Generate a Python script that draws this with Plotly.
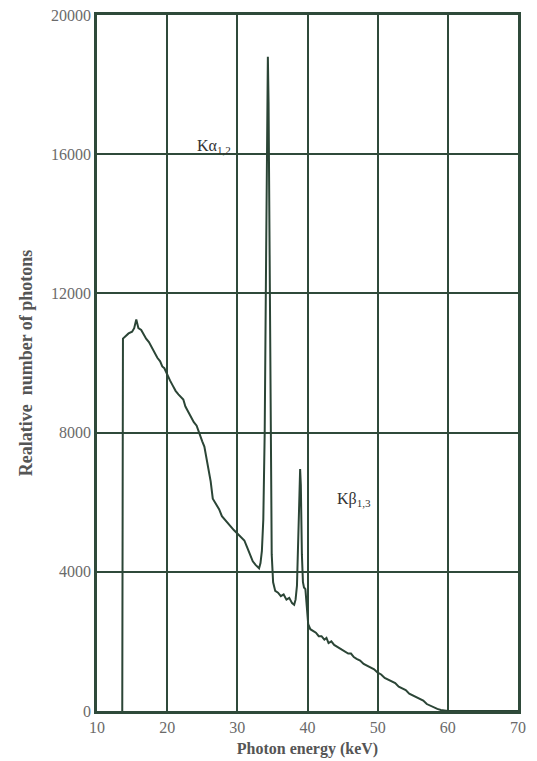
import plotly.graph_objects as go

energy = [13.5, 13.6, 13.7, 14.0, 14.5, 15.0, 15.3, 15.6, 15.9, 16.3, 16.7, 17.0, 17.4, 17.8,
          18.2, 18.6, 19.0, 19.3, 19.6, 20.0, 20.4, 20.8, 21.2, 21.6, 22.0, 22.3, 22.6, 23.0,
          23.4, 23.8, 24.2, 24.6, 25.0, 25.3, 25.6, 25.9, 26.2, 26.5, 26.8, 27.1, 27.4, 27.8,
          28.2, 28.6, 29.0, 29.5, 30.0, 30.5, 31.0, 31.4, 31.8, 32.2, 32.6, 32.9, 33.1, 33.3,
          33.5, 33.7, 33.9, 34.1, 34.25, 34.35, 34.45, 34.6, 34.75, 34.9, 35.1, 35.4, 35.8,
          36.2, 36.6, 37.0, 37.4, 37.8, 38.1, 38.3, 38.5, 38.7, 38.85, 38.95, 39.05, 39.2,
          39.35, 39.5, 39.7, 39.9, 40.1, 40.4, 40.8, 41.2, 41.6, 42.0, 42.4, 42.7, 43.0, 43.4,
          43.8, 44.2, 44.6, 45.0, 45.4, 45.8, 46.2, 46.6, 47.0, 47.5, 48.0, 48.5, 49.0, 49.5,
          50.0, 50.5, 51.0, 51.5, 52.0, 52.5, 53.0, 53.5, 54.0, 54.5, 55.0, 55.5, 56.0, 56.5,
          57.0, 57.5, 58.0, 58.5, 59.0, 59.5, 60.0, 65.0, 70.0]
photons = [0, 0, 10700, 10750, 10850, 10900, 11000, 11250, 11000, 10950, 10800, 10700, 10600, 10450,
           10300, 10150, 10050, 9900, 9850, 9650, 9500, 9350, 9200, 9100, 9000, 8950, 8750, 8600,
           8450, 8300, 8200, 7950, 7750, 7600, 7300, 6950, 6600, 6100, 6000, 5900, 5800, 5600,
           5500, 5400, 5300, 5200, 5100, 5000, 4900, 4700, 4500, 4300, 4200, 4150, 4100, 4250,
           4600, 5500, 8000, 13000, 17000, 18800, 17500, 12000, 7000, 4500, 3700, 3450, 3400,
           3300, 3350, 3200, 3250, 3100, 3050, 3200, 3600, 4800, 6200, 6950, 6500, 4500,
           3700, 3550, 3500, 3000, 2500, 2350, 2300, 2250, 2150, 2150, 2050, 2100, 1950, 2000,
           1900, 1850, 1800, 1750, 1700, 1650, 1650, 1550, 1500, 1450, 1350, 1300, 1250, 1200,
           1100, 1050, 950, 900, 850, 800, 700, 650, 600, 500, 450, 400, 350, 300,
           200, 150, 100, 60, 30, 10, 0, 0, 0]

x_ticks = [10, 20, 30, 40, 50, 60, 70]
y_ticks = [0, 4000, 8000, 12000, 16000, 20000]

line_col = "#2b4536"
grid_col = "#2f4a3a"
tick_font = dict(family="Liberation Serif", size=16, color="#6a6a6a")

fig = go.Figure()
fig.add_trace(go.Scatter(x=energy, y=photons, mode="lines",
                         line=dict(color=line_col, width=2), showlegend=False))

fig.add_annotation(x=26.7, y=15900, text="Kα<sub>1,2</sub>", showarrow=False,
                   xanchor="center", yanchor="bottom",
                   font=dict(family="Liberation Serif", size=16, color="#333333"))
fig.add_annotation(x=46.6, y=5750, text="Kβ<sub>1,3</sub>", showarrow=False,
                   xanchor="center", yanchor="bottom",
                   font=dict(family="Liberation Serif", size=16, color="#333333"))

fig.update_xaxes(range=[10, 70], tickvals=x_ticks, ticktext=[str(v) for v in x_ticks],
                 showgrid=True, gridcolor=grid_col, gridwidth=1.5,
                 showline=True, linecolor=grid_col, linewidth=2.5, mirror=True,
                 zeroline=False, ticks="", tickfont=tick_font, automargin=False,
                 title=dict(text="<b>Photon energy (keV)</b>",
                            font=dict(family="Liberation Serif", size=16, color="#555555"),
                            standoff=8))
fig.update_yaxes(range=[0, 20000], tickvals=y_ticks, ticktext=[str(v) for v in y_ticks],
                 showgrid=True, gridcolor=grid_col, gridwidth=1.5,
                 showline=True, linecolor=grid_col, linewidth=2.5, mirror=True,
                 zeroline=False, ticks="", tickfont=tick_font, automargin=False,
                 title=dict(text="<b>Realative  number of photons</b>",
                            font=dict(family="Liberation Serif", size=18, color="#555555"),
                            standoff=14))

fig.update_layout(width=537, height=761, margin=dict(l=97, r=19, t=15, b=50),
                  plot_bgcolor="white", paper_bgcolor="white")

fig.write_html("out.html")
